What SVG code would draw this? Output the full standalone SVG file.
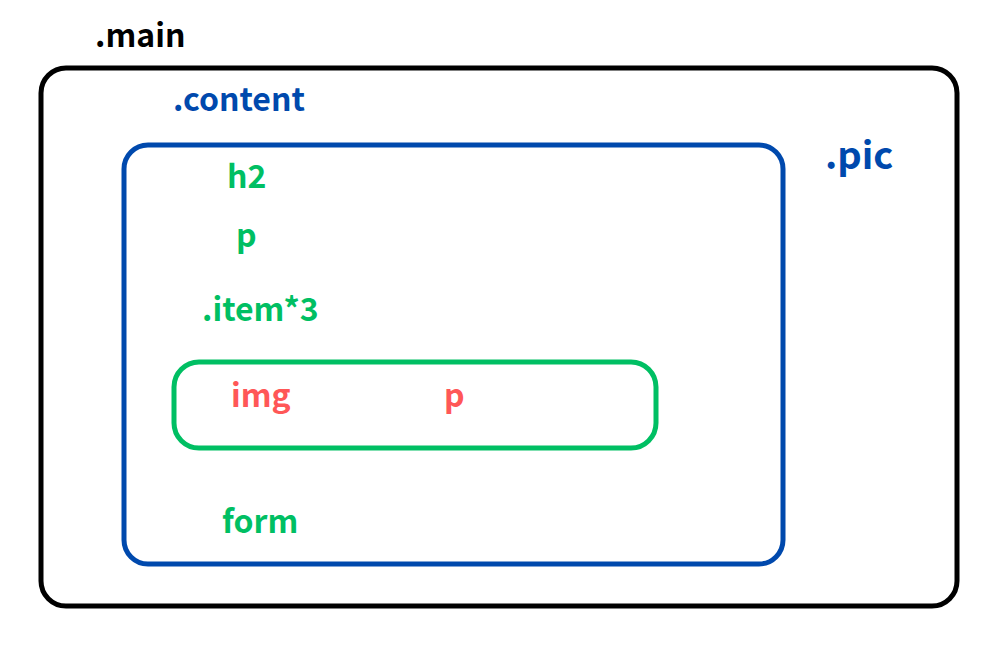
<svg xmlns="http://www.w3.org/2000/svg" width="1000" height="651" viewBox="0 0 1000 651">
<style>
text{font-family:"Noto Sans CJK SC","Noto Sans",sans-serif;font-weight:bold;font-size:32px}
.box{fill:none;stroke-width:5}
.k{fill:#000}.b{fill:#0049ad}.g{fill:#00bf63}.r{fill:#ff5757}
</style>
<rect width="1000" height="651" fill="#fff"/>
<g id="main">
<rect class="box" x="41" y="68" width="916" height="538" rx="25" stroke="#000"/>
<text class="k" x="95" y="47">.main</text>
</g>
<g id="content">
<rect class="box" x="124" y="145" width="659" height="419" rx="24" stroke="#0049ad"/>
<text class="b" x="173" y="111">.content</text>
</g>
<g id="pic">
<text class="b" x="825" y="169" style="font-size:38px">.pic</text>
</g>
<g id="h2"><text class="g" x="227" y="188">h2</text></g>
<g id="p1"><text class="g" x="236" y="247">p</text></g>
<g id="item"><text class="g" x="202" y="321">.item*3</text></g>
<g id="itembox">
<rect class="box" x="174" y="362" width="482" height="86" rx="25" stroke="#00bf63"/>
<text class="r" x="231" y="407">img</text>
<text class="r" x="444" y="407">p</text>
</g>
<g id="form"><text class="g" x="222" y="533">form</text></g>
<g id="connectors"/>
</svg>
